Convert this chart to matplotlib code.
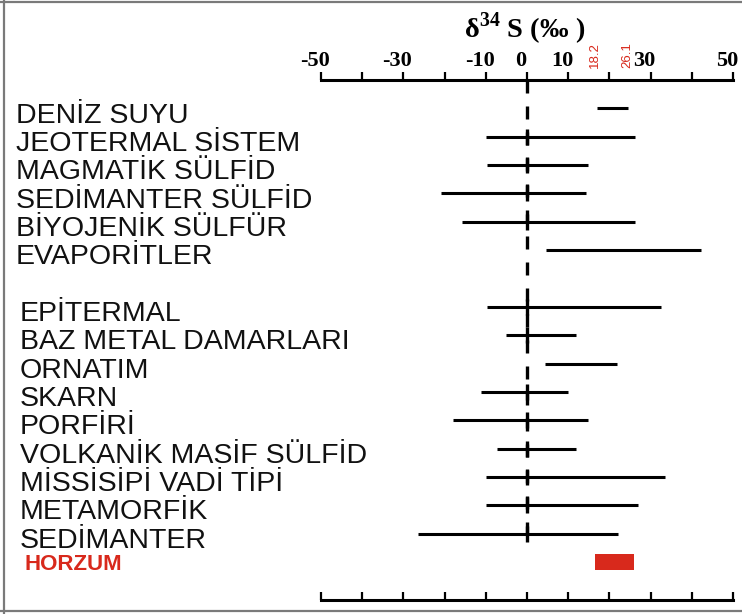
import numpy as np
import matplotlib
matplotlib.use("Agg")
import matplotlib.pyplot as plt
from matplotlib.lines import Line2D
from matplotlib.transforms import blended_transform_factory, ScaledTranslation

plt.rcParams['mathtext.fontset'] = 'custom'
plt.rcParams['mathtext.rm'] = 'Liberation Serif'
plt.rcParams['mathtext.bf'] = 'Liberation Serif:bold'

# delta34S ranges (permil) for each source / deposit type
categories = ["DENİZ SUYU", "JEOTERMAL SİSTEM", "MAGMATİK SÜLFİD", "SEDİMANTER SÜLFİD",
              "BİYOJENİK SÜLFÜR", "EVAPORİTLER",
              "EPİTERMAL", "BAZ METAL DAMARLARI", "ORNATIM", "SKARN", "PORFİRİ",
              "VOLKANİK MASİF SÜLFİD", "MİSSİSİPİ VADİ TİPİ", "METAMORFİK", "SEDİMANTER"]
range_min = [17.0, -10.0, -9.6, -20.8, -15.8, 4.7,
             -9.6, -5.2, 4.3, -11.2, -18.0, -7.3, -10.0, -10.0, -26.4]
range_max = [24.5, 26.2, 14.7, 14.3, 26.2, 42.3,
             32.6, 12.0, 21.8, 9.9, 14.7, 12.0, 33.4, 27.0, 22.2]
group = [1, 1, 1, 1, 1, 1, 2, 2, 2, 2, 2, 2, 2, 2, 2]

horzum_name = "HORZUM"
horzum_min, horzum_max = 16.6, 25.9
horzum_labels = ["18.2", "26.1"]

x_ticks = list(range(-50, 51, 10))
x_ticklabels = ["-50", "", "-30", "", "-10", "0", "10", "", "30", "", "50"]

red = "#d8291c"

fig = plt.figure(figsize=(7.42, 6.14), dpi=100)
ax = fig.add_axes([321 / 742, 14 / 614, 412 / 742, 520 / 614])

n = len(categories)
ypos = np.arange(n) + np.array([0 if g == 1 else 1 for g in group])
y_horzum = ypos[-1] + 1

# range lines
ax.hlines(ypos, range_min, range_max, color="black", lw=2.2)
# zero reference line (dashed)
ax.vlines(0, -1.0, ypos[-1] + 0.3, color="black", lw=2.4, linestyles=(0, (3.9, 3.9)))
# center ticks on ranges that cross zero
cross = [y for y, lo, hi in zip(ypos, range_min, range_max) if lo < 0 < hi]
ax.plot(np.zeros(len(cross)), cross, ls="none", marker="|", ms=11.5, mew=2.4, color="black")

# Horzum range
ax.barh(y_horzum, horzum_max - horzum_min, left=horzum_min, height=0.55, color=red)

ax.set_xlim(-50, 50)
ax.set_ylim(17.34, -1.0)
ax.set_yticks([])
for s in ["left", "right", "top"]:
    ax.spines[s].set_visible(False)
ax.spines["bottom"].set_linewidth(2.2)
ax.set_xticks(x_ticks)
ax.set_xticklabels([])
ax.tick_params(axis="x", direction="in", length=5.5, width=1.6, bottom=True, top=False)

top = ax.secondary_xaxis("top")
top.set_xticks(x_ticks)
top.set_xticklabels(x_ticklabels, fontfamily="Liberation Serif", fontweight="bold", fontsize=16)
top.tick_params(axis="x", direction="out", length=5.8, width=1.6, pad=1.0)
top.spines["top"].set_linewidth(2.2)
# labels in the original sit a little left of their ticks
shift = ScaledTranslation(-0.06, 0, fig.dpi_scale_trans)
for lbl in top.get_xticklabels():
    lbl.set_transform(lbl.get_transform() + shift)

# category labels
tr = blended_transform_factory(fig.transFigure, ax.transData)
for name, y, g in zip(categories, ypos, group):
    xl = 16 / 742 if g == 1 else 20 / 742
    ax.text(xl, y + 0.5, name, transform=tr, ha="left", va="baseline",
            fontfamily="Liberation Sans", fontsize=20.5, color="#111111")
ax.text(25 / 742, y_horzum + 0.28, horzum_name, transform=tr, ha="left", va="baseline",
        fontfamily="Liberation Sans", fontweight="bold", fontsize=16, color=red)

# Horzum limits written above the axis
tr2 = blended_transform_factory(ax.transData, fig.transFigure)
ax.text(horzum_min, 1 - 68 / 614, horzum_labels[0], transform=tr2, rotation=90,
        ha="center", va="bottom", fontsize=9.5, color=red, fontfamily="Liberation Sans")
ax.text(horzum_max, 1 - 68 / 614, horzum_labels[1], transform=tr2, rotation=90,
        ha="right", va="bottom", fontsize=9.5, color=red, fontfamily="Liberation Sans")

# axis title
fig.text(525 / 742, 1 - 38 / 614, "δ$^{\\mathbf{34}}$ S (‰ )", ha="center", va="baseline",
         fontfamily="Liberation Serif", fontweight="bold", fontsize=20.5)

# grey frame of the scanned figure
frame = dict(color="#7a7a7a", lw=1.6, transform=fig.transFigure)
fig.add_artist(Line2D([3.5 / 742, 3.5 / 742], [0, 1], **frame))
fig.add_artist(Line2D([0, 1], [1 - 1.5 / 614, 1 - 1.5 / 614], **frame))
fig.add_artist(Line2D([0, 1], [1 - 611 / 614, 1 - 611 / 614], **frame))

fig.savefig("out.png", dpi=100)
